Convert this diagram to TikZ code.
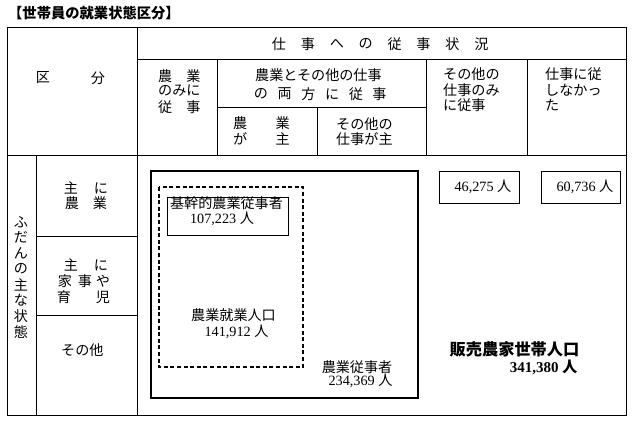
\documentclass[tikz,border=0pt]{standalone}
\usepackage{fontspec}
\setmainfont{Liberation Serif}
\newfontfamily\jpf{Noto Sans CJK JP}
\begin{document}
\begin{tikzpicture}[x=1pt,y=-1pt,
  tline/.style={draw=black,line width=0.9pt},
  jp/.style={inner sep=0pt,font=\jpf\fontsize{14.1}{15}\selectfont},
  jpl/.style={jp,anchor=west},
  num/.style={inner sep=0pt,font=\fontsize{14.2}{15}\selectfont},
  thickbox/.style={draw=black,line width=2.2pt},
  dashbox/.style={draw=black,line width=2pt,dash pattern=on 4pt off 2.6pt},
  thinbox/.style={draw=black,line width=0.9pt}]
\useasboundingbox (0,0) rectangle (632,424);
% title
\node[jpl,font=\jpf\bfseries\fontsize{14.3}{15}\selectfont] (title) at (8,13) {【世帯員の就業状態区分】};
% table grid
\draw[tline] (7,27) rectangle (626,415);
\draw[tline] (137,27) -- (137,415);
\draw[tline] (137,59) -- (626,59);
\draw[tline] (217,59) -- (217,155);
\draw[tline] (217,107) -- (426,107);
\draw[tline] (317,107) -- (317,155);
\draw[tline] (426,59) -- (426,155);
\draw[tline] (527,59) -- (527,155);
\draw[tline] (7,155) -- (626,155);
\draw[tline] (36,155) -- (36,415);
\draw[tline] (36,236) -- (137,236);
\draw[tline] (36,315) -- (137,315);
% header texts
\node[jp] (ku) at (43,78) {区};
\node[jp] (bun) at (98,78) {分};
\foreach \c [count=\i from 0] in {仕,事,へ,の,従,事,状,況}
  \node[jp] (h\i) at (279+28.9*\i,44) {\c};
\node[jpl] (a1) at (158,76) {農　業};
\node[jpl] (a2) at (158,91) {のみに};
\node[jpl] (a3) at (158,107) {従　事};
\node[jpl] (b1) at (255,75) {農業とその他の仕事};
\foreach \c [count=\i from 0] in {の,両,方,に,従,事}
  \node[jp] (b2\i) at (261+23.7*\i,94) {\c};
\node[jpl] (c1) at (233,123) {農　　業};
\node[jpl] (c2) at (233,139) {が　　主};
\node[jpl] (d1) at (336,124) {その他の};
\node[jpl] (d2) at (336,139) {仕事が主};
\node[jpl] (e1) at (443,74) {その他の};
\node[jpl] (e2) at (443,90) {仕事のみ};
\node[jpl] (e3) at (443,105) {に従事};
\node[jpl] (f1) at (545,74) {仕事に従};
\node[jpl] (f2) at (545,90) {しなかっ};
\node[jpl] (f3) at (545,105) {た};
% row labels
\foreach \c [count=\i from 0] in {ふ,だ,ん,の,主,な,状,態}
  \node[jp] (v\i) at (21,222+15.7*\i) {\c};
\node[jp] (r11) at (71,188) {主};
\node[jp] (r12) at (101,188) {に};
\node[jp] (r13) at (72,203) {農};
\node[jp] (r14) at (100,203) {業};
\node[jp] (r21) at (71,265) {主};
\node[jp] (r22) at (101,265) {に};
\node[jp] (r23) at (65,281) {家};
\node[jp] (r24) at (85,281) {事};
\node[jp] (r25) at (103,281) {や};
\node[jp] (r26) at (64,297) {育};
\node[jp] (r27) at (103,297) {児};
\node[jpl] (r31) at (61,350) {その他};
% boxes
\draw[thickbox] (151,171) rectangle (418,398);
\draw[dashbox] (159,187) rectangle (303,367);
\draw[thinbox] (167,197) rectangle (288,235);
\draw[thinbox] (439,171) rectangle (519,203);
\draw[thinbox] (541,171) rectangle (620,203);
% box texts
\node[jp] (k1) at (226.5,203) {基幹的農業従事者};
\node[num] (k2) at (222,218.5) {107,223 {\jpf 人}};
\node[jp] (s1) at (233.5,315) {農業就業人口};
\node[num] (s2) at (236.5,332) {141,912 {\jpf 人}};
\node[jp] (j1) at (357,367) {農業従事者};
\node[num] (j2) at (360.5,381) {234,369 {\jpf 人}};
\node[num] (o1) at (483,187) {46,275 {\jpf 人}};
\node[num] (n1) at (585,187) {60,736 {\jpf 人}};
\node[jp,font=\jpf\bfseries\fontsize{16.2}{17}\selectfont] (t1) at (514.5,349) {販売農家世帯人口};
\node[num,font=\bfseries\fontsize{15}{16}\selectfont] (t2) at (543.5,367) {341,380 {\jpf 人}};
\end{tikzpicture}
\end{document}
